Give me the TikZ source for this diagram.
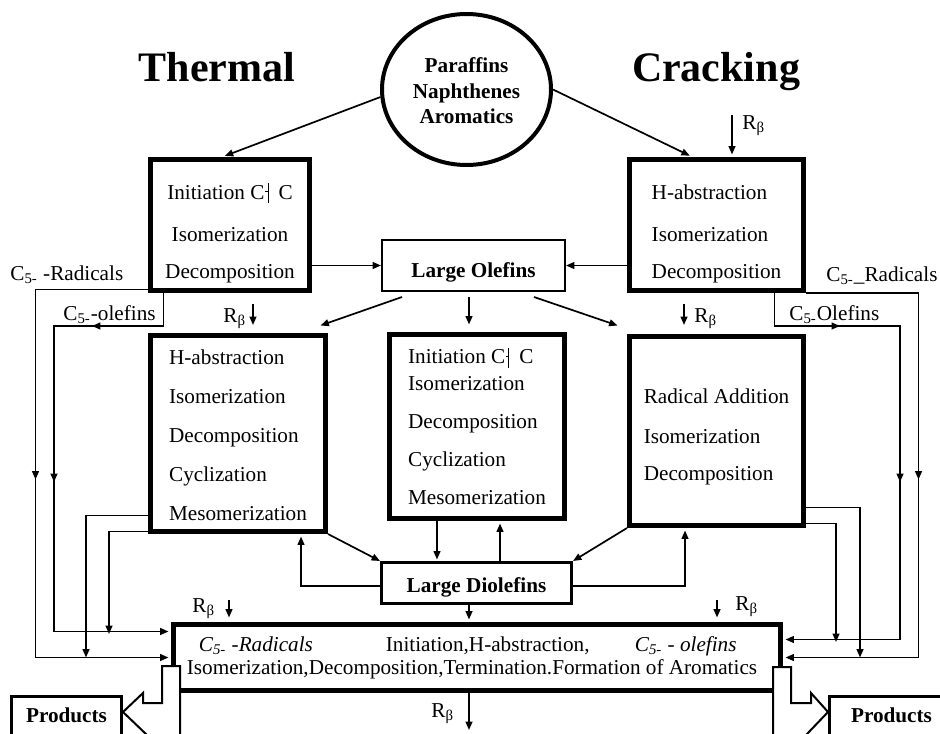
\documentclass[tikz,border=0pt]{standalone}
\usepackage{fontspec}
\setmainfont{Liberation Serif}
\usetikzlibrary{arrows.meta,calc,shapes.geometric,decorations.markings}

\newcommand{\bondcut}{C\kern0.3pt\rule[3.7pt]{1.3pt}{0.5pt}\rule[-2pt]{0.5pt}{10pt}\hspace{5pt}C}
\newcommand{\Rbeta}{R\textsubscript{β}}
\newcommand{\Cfive}{C\textsubscript{5-}}

\tikzset{
  every node/.style={font=\fontsize{10.6pt}{19.5pt}\selectfont},
  stage/.style={draw, line width=2.5pt, inner sep=0pt},
  pool/.style={draw, font=\fontsize{10.6pt}{12pt}\selectfont\bfseries},
  prod/.style={draw, line width=1.5pt, minimum height=21.5pt, text height=7.2pt, text depth=3pt, font=\fontsize{10.6pt}{12pt}\selectfont\bfseries},
  lbl/.style={inner sep=0pt, anchor=base west},
  heading/.style={anchor=base, font=\fontsize{21pt}{25pt}\selectfont\bfseries},
  arr/.style={line width=0.85pt, -{Triangle[length=4.2pt,width=3.4pt]}},
  midtip/.style={postaction={decorate, decoration={markings, mark=at position #1 with {\arrow{Triangle[length=4.2pt,width=3.4pt]}}}}},
  fat/.style={line width=1pt, fill=white, line join=miter}
}

\begin{document}
\begin{tikzpicture}[x=0.5pt, y=-0.5pt]
  \useasboundingbox (0,0) rectangle (940,733);
  \clip (0,0) rectangle (940,733);
  \fill[white] (0,0) rectangle (940,733);

  \node[heading] (thermal) at (217,82) {Thermal};
  \node[heading] (cracking) at (716,82) {Cracking};
  \node[draw, ellipse, line width=2pt, minimum width=84.5pt, minimum height=75.5pt, inner sep=0pt, align=center,
        font=\fontsize{10.6pt}{12.75pt}\selectfont\bfseries] (feed) at (466.5,89.5)
        {\rule{0pt}{9pt}Paraffins\\Naphthenes\\Aromatics};

  \node[stage, minimum width=79.5pt, minimum height=65.5pt, align=center] (init) at (230,225)
        {\rule{0pt}{15.8pt}Initiation \bondcut\\[1.5pt]Isomerization\\[-1pt]Decomposition};
  \node[stage, minimum width=87pt, minimum height=65.5pt, align=left] (habs) at (716.5,225)
        {\rule{0pt}{15.8pt}H-abstraction\\[1.5pt]Isomerization\\[-1pt]Decomposition};
  \node[pool, line width=1pt, minimum width=91.5pt, minimum height=25.5pt, text height=11.5pt, text depth=0pt]
        (olef) at (473.5,265.5) {Large Olefins};

  \node[stage, minimum width=87.5pt, minimum height=98pt, align=left] (lstage) at (238,433.5)
        {\rule{0pt}{9pt}H-abstraction\\Isomerization\\Decomposition\\Cyclization\\Mesomerization};
  \node[stage, minimum width=87.5pt, minimum height=92pt, align=left] (cstage) at (477,426.5)
        {Initiation \bondcut\\[-6pt]Isomerization\\[-0.5pt]Decomposition\\[-0.5pt]Cyclization\\[-0.5pt]Mesomerization};
  \node[stage, minimum width=87pt, minimum height=94.5pt, align=left] (rstage) at (716.5,431)
        {\rule{0pt}{12.8pt}Radical Addition\\[0.5pt]Isomerization\\[-1pt]Decomposition};
  \node[pool, line width=1.5pt, minimum width=95pt, minimum height=20.5pt, text height=9pt, text depth=0pt]
        (diol) at (476.5,583) {Large Diolefins};

  \node[stage, minimum width=303.5pt, minimum height=33pt, align=left,
        font=\fontsize{10.6pt}{11.5pt}\selectfont] (final) at (477,657.5)
        {\rule{6pt}{0pt}\makebox[93.5pt][l]{\textit{\Cfive{} -Radicals}}\makebox[124.5pt][l]{Initiation,H-abstraction,}\textit{\Cfive{} - olefins}\\
         Isomerization,Decomposition,Termination.Formation of Aromatics\rule{5pt}{0pt}};

  \draw[arr, shorten >=1.5pt] (feed.185) -- ($(init.north)+(-8,0)$);
  \draw[arr, shorten >=1.5pt] (feed.east) -- ($(habs.north)+(-24,0)$);
  \coordinate (rbA) at (732,115);
  \draw[arr, shorten >=1.25pt] (rbA) -- (rbA |- habs.north);
  \node[lbl] (rbAl) at (742,129) {\Rbeta};

  \draw[arr] (init.east |- olef.west) -- (olef.west);
  \draw[arr] (habs.west |- olef.east) -- (olef.east);

  \draw[arr, midtip=151.25pt, shorten >=1.25pt] ($(init.south west)+(0,-3.5)$) -- ++(-112.5,0) |- (final.west);
  \node[lbl] (radL) at (10,280) {\Cfive{} -Radicals};
  \draw[arr, midtip=52.25pt, midtip=149.25pt, shorten >=1.25pt] ($(init.south west)+(15.5,0)$) |- (54,326) |- ($(final.north west)+(0,9.5)$);
  \node[lbl] (oleL) at (63,320) {\Cfive-olefins};
  \coordinate (jA) at (86,657.5);
  \coordinate (jB) at (109,634);
  \draw[arr] ($(lstage.south west)+(0,-18.5)$) -| (jA);
  \draw[arr] ($(lstage.south west)+(0,-2.5)$) -| (jB);

  \draw[arr, midtip=149.5pt, shorten >=1.25pt] (habs.south east) -- ++(112.5,0) |- (final.east);
  \node[lbl] (radR) at (826,281) {\Cfive\_Radicals};
  \draw[arr, midtip=49.25pt, midtip=157.25pt, shorten >=1.25pt] ($(habs.south east)+(-31.5,0)$) |- (900,326) |- ($(final.north east)+(0,17.5)$);
  \node[lbl] (oleR) at (789,320) {\Cfive Olefins};
  \coordinate (jC) at (860,657.5);
  \coordinate (jD) at (836,642);
  \draw[arr] ($(rstage.south east)+(0,-20.5)$) -| (jC);
  \draw[arr] ($(rstage.south east)+(0,-4.5)$) -| (jD);

  \draw[arr] ($(olef.south west)+(21,5)$) -- ($(lstage.north east)+(-7.5,-7.5)$);
  \draw[arr] ($(olef.south)+(-4.5,5)$) -- ($(olef.south |- cstage.north)+(-4.5,-7.5)$);
  \draw[arr] ($(olef.south east)+(-32,5)$) -- ($(rstage.north west)+(-9.5,-8.5)$);
  \coordinate (rbB) at (253,304);
  \draw[arr, shorten >=4pt] (rbB) -- (rbB |- lstage.north);
  \node[lbl] (rbBl) at (223,322) {\Rbeta};
  \coordinate (rbC) at (684,304);
  \draw[arr, shorten >=4.5pt] (rbC) -- (rbC |- rstage.north);
  \node[lbl] (rbCl) at (694,322) {\Rbeta};

  \draw[arr] (lstage.south east) -- (diol.north west);
  \draw[arr] (rstage.south west) -- (diol.north east);
  \draw[arr, shorten >=0.75pt] ($(cstage.south)+(-40,0)$) -- ($(cstage.south |- diol.north)+(-40,0)$);
  \draw[arr, shorten >=1.25pt] ($(cstage.south |- diol.north)+(23,0)$) -- ($(cstage.south)+(23,0)$);
  \draw[arr, shorten >=1.25pt] ($(diol.west)+(0,3)$) -| ($(lstage.south)+(63,0)$);
  \draw[arr, shorten >=1.25pt] ($(diol.east)+(0,3)$) -| ($(rstage.south)+(-31.5,0)$);
  \draw[arr, shorten >=1.25pt] ($(diol.south)+(-7.5,0)$) -- ($(diol.south |- final.north)+(-7.5,0)$);

  \coordinate (rbD) at (229,600);
  \draw[arr, shorten >=2.25pt] (rbD) -- (rbD |- final.north);
  \node[lbl] (rbDl) at (192,612) {\Rbeta};
  \coordinate (rbE) at (717,600);
  \draw[arr, shorten >=2.25pt] (rbE) -- (rbE |- final.north);
  \node[lbl] (rbEl) at (735,610) {\Rbeta};
  \coordinate (rbF) at (469,730);
  \draw[arr] ($(final.south)+(-8,0)$) -- (rbF);
  \node[lbl] (rbFl) at (431,717) {\Rbeta};

  \draw[fat] (162,666) -- (180,666) -- (180,745) -- (147,745) -- (147,735) -- (123,712) -- (143,693) -- (143,703) -- (162,703) -- cycle;
  \draw[fat] (773,667) -- (791,667) -- (791,703) -- (811,703) -- (811,693) -- (828,712) -- (806,735) -- (806,745) -- (773,745) -- cycle;
  \node[prod, minimum width=55pt] (prodL) at (66.5,718) {Products};
  \node[prod, minimum width=62pt] (prodR) at (891.5,718) {Products};
\end{tikzpicture}
\end{document}
